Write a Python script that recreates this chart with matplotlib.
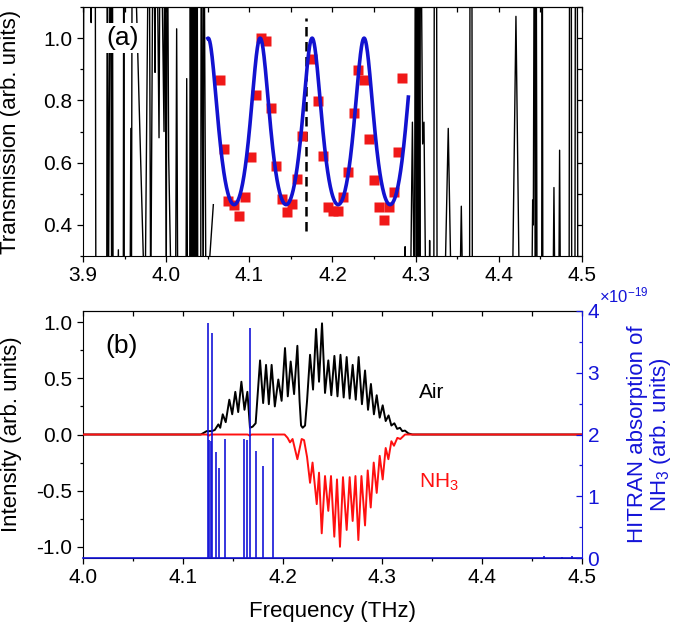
import numpy as np
import matplotlib
matplotlib.use('Agg')
import matplotlib.pyplot as plt
from matplotlib.ticker import MultipleLocator, ScalarFormatter, FormatStrFormatter

plt.rcParams['font.family'] = ['Liberation Sans', 'DejaVu Sans']
plt.rcParams['mathtext.fontset'] = 'custom'
plt.rcParams['mathtext.rm'] = 'Liberation Sans'
plt.rcParams['mathtext.it'] = 'Liberation Sans:italic'
plt.rcParams['mathtext.bf'] = 'Liberation Sans:bold'

# ---------------- Panel (a) data ----------------
# noisy transmission outside the usable band (left block, NaN break, right block)
noise_freq = [3.9000, 3.9012, 3.9085, 3.9098, 3.9110, 3.9145, 3.9155,
              3.9285, 3.9292, 3.9305, 3.9330, 3.9345, 3.9352, 3.9362,
              3.9415, 3.9425, 3.9435, 3.9484, 3.9490, 3.9496,
              3.9565, 3.9575, 3.9582, 3.9592, 3.9745, 3.9794, 3.9814, 3.9846,
              3.9866, 3.9880, 3.9914, 3.9930, 3.9974, 3.9985,
              4.0000, 4.0012, 4.0030, 4.0065,
              4.0112, 4.0126, 4.0140, 4.0237, 4.0247, 4.0257,
              4.0283, 4.0290, 4.0300, 4.0308, 4.0320, 4.0330, 4.0340, 4.0350,
              4.0362, 4.0372, 4.0380, 4.0415, 4.0422, 4.0445, 4.0452, 4.0479,
              4.0515, 4.0525, 4.0567,
              np.nan,
              4.2865, 4.2873, 4.2880, 4.2935, 4.2961, 4.2985,
              4.2998, 4.3010, 4.3018, 4.3030, 4.3038, 4.3050, 4.3058,
              4.3084, 4.3100, 4.3124, 4.3160, 4.3168, 4.3176,
              4.3218, 4.3226, 4.3250, 4.3258, 4.3344, 4.3392, 4.3432,
              4.3528, 4.3549, 4.3570, 4.3648, 4.3655, 4.3675, 4.3682,
              4.4160, 4.4206, 4.4250, 4.4395, 4.4407, 4.4415, 4.4428, 4.4440,
              4.4448, 4.4460, 4.4515, 4.4522, 4.4530,
              4.4650, 4.4663, 4.4676, 4.4720, 4.4731, 4.4742,
              4.4845, 4.4852, 4.4870, 4.4877, 4.4915, 4.4922, 4.4942, 4.4950,
              4.5000]
noise_trans = [0.10, 1.60, 1.60, 1.05, 1.60, 1.60, 0.10,
               0.10, 1.60, 0.10, 1.60, 0.10, 1.60, 0.10,
               0.10, 0.32, 0.10, 0.10, 1.60, 0.10,
               0.10, 0.71, 0.10, 1.60, 0.10, 1.60, 0.10, 1.60,
               0.89, 1.60, 0.68, 1.60, 0.70, 1.60,
               0.10, 1.60, 0.62, 0.10,
               0.10, 1.03, 0.10, 0.10, 0.87, 0.10,
               0.10, 1.60, 0.10, 1.60, 0.10, 1.60, 0.10, 1.60,
               0.10, 1.60, 0.10, 0.10, 1.60, 0.10, 1.60, 0.10,
               0.28, 0.30, 0.465,
               np.nan,
               0.10, 0.33, 0.10, 0.10, 0.73, 0.10,
               1.60, 0.10, 1.60, 0.10, 1.60, 0.10, 1.60,
               0.66, 0.73, 0.10, 0.10, 0.35, 0.10,
               0.10, 1.60, 1.60, 0.10, 0.10, 0.71, 0.10,
               0.10, 0.46, 0.10, 0.10, 1.60, 1.60, 0.10,
               0.10, 1.07, 0.10, 0.10, 0.48, 0.40, 1.60, 0.10,
               1.60, 0.10, 0.10, 1.60, 0.10,
               0.10, 0.52, 0.10, 0.10, 0.64, 0.10,
               0.10, 1.60, 1.60, 0.10, 0.10, 1.60, 1.60, 0.10,
               0.10]

# measured transmission points (red squares)
meas_freq = [4.0647, 4.0699, 4.0747, 4.0819, 4.0879, 4.0948, 4.1016, 4.1076,
             4.1136, 4.1200, 4.1260, 4.1321, 4.1389, 4.1449, 4.1517, 4.1577,
             4.1637, 4.1750, 4.1822, 4.1890, 4.1950, 4.2010, 4.2070, 4.2130,
             4.2190, 4.2258, 4.2310, 4.2379, 4.2439, 4.2499, 4.2563, 4.2623,
             4.2683, 4.2743, 4.2791, 4.2831]
meas_trans = [0.865, 0.645, 0.478, 0.465, 0.430, 0.490, 0.618, 0.817,
              1.000, 0.990, 0.777, 0.590, 0.482, 0.440, 0.468, 0.546,
              0.685, 0.932, 0.798, 0.620, 0.457, 0.446, 0.446, 0.490,
              0.570, 0.758, 0.898, 0.866, 0.677, 0.545, 0.459, 0.416,
              0.457, 0.505, 0.634, 0.871]

# etalon (Airy) fit parameters
fit_start, fit_end = 4.050, 4.2912
fit_peak_freq = 4.0505
fit_fsr = 0.0625
fit_coef = 1.15
fit_max = 1.0

marker_freq = 4.168
marker_lo, marker_hi = 0.38, 1.065

# ---------------- Panel (b) data ----------------
air_freq = [4.000, 4.118, 4.121, 4.1239, 4.1290, 4.1320, 4.1356, 4.1375, 4.1400,
            4.1430, 4.1466, 4.1495, 4.1526, 4.1555, 4.1587, 4.1618, 4.1647,
            4.1673, 4.1700, 4.1730, 4.1774, 4.1805, 4.1834, 4.1862, 4.1890,
            4.1922, 4.1957, 4.1990, 4.2024, 4.2052, 4.2081, 4.2115, 4.2148,
            4.2170, 4.2185, 4.2201, 4.2225, 4.2245, 4.2275, 4.2305, 4.2335,
            4.2365, 4.2395, 4.2425, 4.2458, 4.2488, 4.2519, 4.2550, 4.2580,
            4.2612, 4.2642, 4.2672, 4.2702, 4.2733, 4.2762, 4.2795, 4.2826,
            4.2856, 4.2885, 4.2915, 4.2943, 4.2973, 4.3003, 4.3033, 4.3062,
            4.3090, 4.3120, 4.3148, 4.3176, 4.3200, 4.3226, 4.3260, 4.3300,
            4.5000]
air_int = [0.0, 0.0, 0.015, 0.03, 0.03, 0.04, 0.09, 0.06, 0.18,
           0.11, 0.31, 0.18, 0.38, 0.20, 0.47, 0.22, 0.38,
           0.06, 0.07, 0.10, 0.66, 0.28, 0.62, 0.27, 0.62,
           0.25, 0.49, 0.30, 0.77, 0.34, 0.65, 0.36, 0.79,
           0.30, 0.08, 0.06, 0.08, 0.30, 0.71, 0.40, 0.94,
           0.47, 0.99, 0.37, 0.66, 0.35, 0.70, 0.34, 0.71,
           0.33, 0.69, 0.32, 0.62, 0.31, 0.69, 0.27, 0.57,
           0.22, 0.45, 0.18, 0.35, 0.15, 0.26, 0.12, 0.17,
           0.08, 0.10, 0.05, 0.06, 0.03, 0.035, 0.01, 0.0,
           0.0]

nh3_freq = [4.000, 4.1240, 4.1260, 4.1280, 4.1650, 4.1670, 4.1690, 4.2020,
            4.2050, 4.2074, 4.2100, 4.2148, 4.2191, 4.2215, 4.2245, 4.2275,
            4.2300, 4.2342, 4.2365, 4.2392, 4.2425, 4.2458, 4.2485, 4.2518,
            4.2545, 4.2575, 4.2605, 4.2642, 4.2672, 4.2702, 4.2730, 4.2759,
            4.2790, 4.2826, 4.2853, 4.2883, 4.2913, 4.2943, 4.2973, 4.3003,
            4.3033, 4.3060, 4.3090, 4.3116, 4.3150, 4.3180, 4.3227, 4.5000]
nh3_int = [0.0, 0.0, -0.01, 0.0, 0.0, -0.01, 0.0, 0.0,
           -0.03, -0.07, -0.04, -0.22, -0.04, -0.05, -0.20, -0.43,
           -0.25, -0.62, -0.34, -0.88, -0.37, -0.68, -0.37, -0.91,
           -0.40, -1.00, -0.38, -0.85, -0.38, -0.77, -0.37, -0.94,
           -0.37, -0.81, -0.32, -0.65, -0.25, -0.52, -0.19, -0.40,
           -0.12, -0.22, -0.06, -0.10, -0.03, -0.04, 0.0, 0.0]

hitran_freq = [4.1256, 4.1266, 4.1279, 4.1296, 4.1329, 4.1366, 4.1423,
               4.1613, 4.1640, 4.1677, 4.1730, 4.1807, 4.1900,
               4.4615, 4.4800, 4.4905]
hitran_strength = [3.81e-19, 1.91e-19, 1.90e-19, 3.65e-19, 1.71e-19, 1.45e-19, 1.92e-19,
                   1.92e-19, 1.91e-19, 3.72e-19, 1.74e-19, 1.49e-19, 1.95e-19,
                   0.03e-19, 0.02e-19, 0.03e-19]

BLUE = '#1414d8'
RED = '#ff1010'
TICK_FS = 15
LABEL_FS = 16

fig = plt.figure(figsize=(6.85, 6.26), dpi=100)

# ---------------- Panel (a) ----------------
ax_a = fig.add_axes([0.1212, 0.591, 0.7284, 0.3978])
ax_a.plot(noise_freq, noise_trans, color='black', lw=1.0, zorder=1)
ax_a.plot(meas_freq, meas_trans, 's', color='#f01818', ms=7.2, mec='none', zorder=3)
fit_f = np.linspace(fit_start, fit_end, 600)
fit_t = fit_max / (1 + fit_coef * np.sin(np.pi * (fit_f - fit_peak_freq) / fit_fsr) ** 2)
ax_a.plot(fit_f, fit_t, color='#1212d0', lw=2.6, zorder=4)
ax_a.vlines(marker_freq, marker_lo, marker_hi, colors='black',
            linestyles=(0, (3.8, 2.2)), lw=1.8, zorder=2)
ax_a.set_xlim(3.9, 4.5)
ax_a.set_ylim(0.3, 1.1)
ax_a.xaxis.set_major_locator(MultipleLocator(0.1))
ax_a.xaxis.set_minor_locator(MultipleLocator(0.05))
ax_a.xaxis.set_major_formatter(FormatStrFormatter('%.1f'))
ax_a.yaxis.set_major_locator(MultipleLocator(0.2))
ax_a.yaxis.set_minor_locator(MultipleLocator(0.1))
ax_a.yaxis.set_major_formatter(FormatStrFormatter('%.1f'))
ax_a.tick_params(which='both', direction='out', labelsize=TICK_FS, width=0.9)
ax_a.tick_params(which='major', length=4)
ax_a.tick_params(which='minor', length=2.5)
ax_a.xaxis.get_offset_text().set_visible(False)
ax_a.yaxis.get_offset_text().set_visible(False)
sx = ax_a.secondary_xaxis('top')
sx.xaxis.set_major_locator(MultipleLocator(0.05))
sx.tick_params(direction='in', labeltop=False, length=3.5, width=0.9)
sy = ax_a.secondary_yaxis('right')
sy.yaxis.set_major_locator(MultipleLocator(0.1))
sy.tick_params(direction='in', labelright=False, length=3.5, width=0.9)
ax_a.set_ylabel('Transmission (arb. units)', fontsize=LABEL_FS)
ax_a.yaxis.set_label_coords(-0.124, 0.5)
ax_a.text(0.08, 0.875, '(a)', transform=ax_a.transAxes, ha='center', va='center',
          fontsize=19, zorder=10,
          bbox=dict(facecolor='white', edgecolor='none', pad=2))

# ---------------- Panel (b) ----------------
ax_b = fig.add_axes([0.1212, 0.1086, 0.7284, 0.3946])
ax_b.plot(air_freq, air_int, color='black', lw=1.4, zorder=2, solid_joinstyle='round')
ax_b.plot(nh3_freq, nh3_int, color=RED, lw=1.4, zorder=3, solid_joinstyle='round')
ax_b.set_xlim(4.0, 4.5)
ax_b.set_ylim(-1.1, 1.1)
ax_b.xaxis.set_major_locator(MultipleLocator(0.1))
ax_b.xaxis.set_minor_locator(MultipleLocator(0.05))
ax_b.xaxis.set_major_formatter(FormatStrFormatter('%.1f'))
ax_b.yaxis.set_major_locator(MultipleLocator(0.5))
ax_b.yaxis.set_minor_locator(MultipleLocator(0.25))
ax_b.yaxis.set_major_formatter(FormatStrFormatter('%.1f'))
ax_b.tick_params(which='both', direction='out', labelsize=TICK_FS, width=0.9, right=False)
ax_b.tick_params(which='major', length=4)
ax_b.tick_params(which='minor', length=2.5)
ax_b.xaxis.get_offset_text().set_visible(False)
ax_b.yaxis.get_offset_text().set_visible(False)
ax_b.spines['right'].set_visible(False)
sxb = ax_b.secondary_xaxis('top')
sxb.xaxis.set_major_locator(MultipleLocator(0.05))
sxb.tick_params(direction='in', labeltop=False, length=3.5, width=0.9)
ax_b.set_ylabel('Intensity (arb. units)', fontsize=LABEL_FS)
ax_b.yaxis.set_label_coords(-0.122, 0.5)
ax_b.set_xlabel('Frequency (THz)', fontsize=LABEL_FS)
ax_b.xaxis.set_label_coords(0.5, -0.175)
ax_b.text(0.078, 0.858, '(b)', transform=ax_b.transAxes, ha='center', va='center',
          fontsize=19)
ax_b.text(4.3367, 0.327, 'Air', ha='left', va='baseline', fontsize=15, color='black')
ax_b.text(4.3367, -0.47, 'NH$_3$', ha='left', va='baseline', fontsize=15, color=RED)

ax_h = ax_b.twinx()
ax_h.vlines(hitran_freq, 0, hitran_strength, colors=BLUE, lw=1.2, zorder=4)
ax_h.axhline(0, color=BLUE, lw=1.2, clip_on=False, zorder=4)
ax_h.set_ylim(0, 4e-19)
for s in ['left', 'top', 'bottom']:
    ax_h.spines[s].set_visible(False)
ax_h.spines['right'].set_color(BLUE)
ax_h.yaxis.set_major_locator(MultipleLocator(1e-19))
ax_h.yaxis.set_minor_locator(MultipleLocator(0.5e-19))
fmt = ScalarFormatter(useMathText=True)
fmt.set_powerlimits((0, 0))
ax_h.yaxis.set_major_formatter(fmt)
ax_h.tick_params(which='both', direction='in', colors=BLUE, labelsize=TICK_FS, width=0.9)
ax_h.tick_params(which='major', length=4)
ax_h.tick_params(which='minor', length=2.5)
ax_h.xaxis.get_offset_text().set_visible(False)
ax_h.yaxis.OFFSETTEXTPAD = 6
off = ax_h.yaxis.get_offset_text()
off.set_color(BLUE)
off.set_fontsize(12)
off.set_x(1.035)
off.set_horizontalalignment('left')
ax_h.set_ylabel('HITRAN absorption of\nNH$_3$ (arb. units)', fontsize=LABEL_FS, color=BLUE,
                multialignment='center', linespacing=1.0)
ax_h.yaxis.set_label_coords(1.090, 0.5)

fig.savefig('out.png', dpi=100)
